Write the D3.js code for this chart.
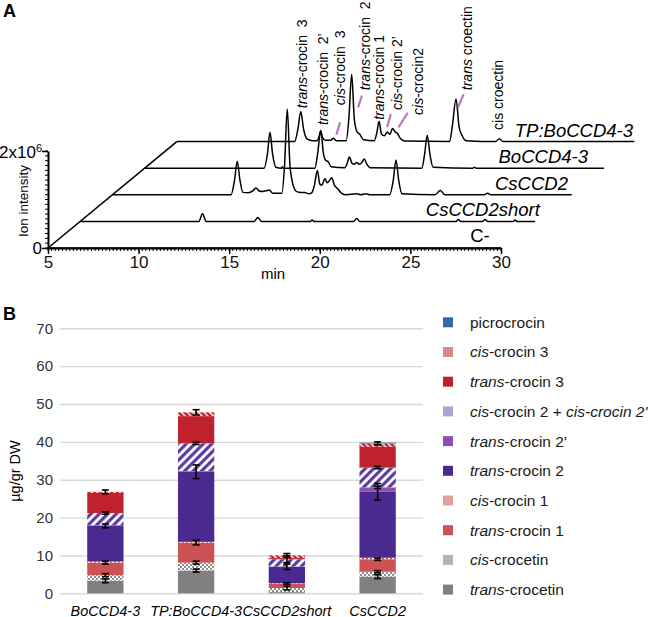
<!DOCTYPE html>
<html><head><meta charset="utf-8">
<script src="https://cdn.jsdelivr.net/npm/d3@7"></script>
<style>
body{margin:0;background:#fff;}
svg{font-family:"Liberation Sans",Arial,Helvetica,sans-serif;}
</style></head><body>
<svg id="c" width="650" height="617"></svg>
<script>
// ---------------- Panel A data (time in min, intensity in units of 10^6) ----------------
const traceNames = ["C-", "CsCCD2short", "CsCCD2", "BoCCD4-3", "TP:BoCCD4-3"];
const traceCneg = [[5,0],[30,0]];
const traceShort = [[5,0],[11.55,0],[11.75,0.16],[11.95,0],[14.6,0],[14.8,0.08],[15.0,0],[17.7,0],[17.8,0.03],[17.9,0],
  [20.1,0],[20.26,0.06],[20.42,0],[25.75,0],[25.87,0.04],[26.0,0],[27.2,0],[27.34,0.04],[27.5,0],[28.9,0],[29.0,0.03],[29.1,0],[30.1,0]];
const traceCsCCD2 = [[5,0],[11.55,0],[11.74,0.3],[11.89,0.69],[12.04,0.3],[12.2,0.05],[12.5,0.04],[12.75,0.08],[12.93,0.14],[13.1,0.08],
  [13.3,0.07],[13.45,0.08],[13.66,0.1],[13.85,0.03],[14.35,0.03],[14.5,0.6],[14.65,1.77],[14.8,0.6],[14.9,0.32],[15.05,0.12],[15.2,0.06],
  [15.4,0.05],[15.6,0.05],[15.85,0.02],[16.0,0.04],[16.15,0.2],[16.31,0.5],[16.45,0.22],[16.55,0.2],[16.73,0.33],[16.85,0.25],[16.95,0.28],
  [17.1,0.35],[17.25,0.2],[17.45,0.12],[17.65,0.03],[17.9,0],[18.5,0.02],[18.7,0],[19.0,0.02],[19.2,0],[20.3,0],[20.5,0.3],[20.65,0.72],
  [20.8,0.3],[20.98,0.02],[22.8,0],[23.1,0.09],[23.35,0],[25.5,0],[25.7,0.03],[25.9,0],[30.35,0]];
const traceBo = [[5,0],[11.6,0],[11.78,0.3],[11.92,0.74],[12.06,0.3],[12.25,0.02],[12.55,0],[12.6,0.03],[12.65,0],[14.4,0],[14.55,0.3],
  [14.72,0.78],[14.87,0.3],[15.0,0.16],[15.12,0.14],[15.3,0.03],[16.05,0.01],[16.18,0.1],[16.3,0.23],[16.45,0.1],[16.58,0.08],[16.7,0.12],
  [16.85,0.08],[17.0,0.12],[17.12,0.19],[17.27,0.08],[17.45,0.01],[20.3,0],[20.45,0.28],[20.6,0.68],[20.75,0.28],[20.92,0.02],[23.1,0],
  [23.2,0.02],[23.3,0],[30.35,0]];
const traceTP = [[5,0],[11.5,0],[11.68,0.25],[11.84,0.62],[12.0,0.25],[12.2,0.05],[12.5,0.02],[12.75,0.02],[12.85,0.1],[12.94,0.22],
  [13.03,0.1],[13.2,0.03],[13.5,0.03],[13.64,0.07],[13.8,0.02],[14.35,0.02],[14.5,0.5],[14.65,1.39],[14.8,0.45],[14.95,0.2],[15.1,0.15],
  [15.3,0.04],[15.9,0.02],[16.05,0.2],[16.16,0.42],[16.3,0.15],[16.45,0.12],[16.62,0.2],[16.75,0.15],[16.91,0.27],[17.05,0.2],[17.17,0.17],
  [17.35,0.06],[17.6,0.01],[20.05,0],[20.2,0.3],[20.41,0.88],[20.58,0.3],[20.75,0.12],[20.95,0.02],[22.6,0],[22.8,0.06],[23.0,0],[30.25,0]];
const traceLabelTimes = [28.84, 30.37, 30.14, 29.47, 30.18];
const xTicksA = [5, 10, 15, 20, 25, 30];
// peak labels, anchored in TP:BoCCD4-3 trace coordinates [time, intensity]
const peakLabels = [
  {t:11.89, v:0.69, parts:[["trans",true],["-crocin  3",false]]},
  {t:13.09, v:0.34, parts:[["trans",true],["-crocin  2’",false]]},
  {t:14.0,  v:0.75, parts:[["cis",true],["-crocin  3",false]]},
  {t:15.39, v:1.06, parts:[["trans",true],["-crocin  2",false]]},
  {t:16.18, v:0.45, parts:[["trans",true],["-crocin 1",false]]},
  {t:17.14, v:0.65, parts:[["cis",true],["-crocin 2’",false]]},
  {t:18.33, v:0.55, parts:[["cis",true],["-crocin2",false]]},
  {t:21.0,  v:1.06, parts:[["trans",true],[" croectin",false]]},
  {t:22.74, v:0.24, parts:[["cis croectin",false]]}
];
const leaderLines = [[13.82,0.16,14.0,0.38],[15.02,0.72,15.2,0.93],[16.62,0.32,16.8,0.55],[17.26,0.31,17.72,0.58],[20.54,0.72,20.81,0.96]];

// ---------------- Panel B data (µg/gr DW) ----------------
const categories = ["BoCCD4-3", "TP:BoCCD4-3", "CsCCD2short", "CsCCD2"];
const seriesNames = ["trans-crocetin","cis-crocetin","trans-crocin 1","cis-crocin 1","trans-crocin 2","trans-crocin 2'",
  "cis-crocin 2 + cis-crocin 2'","trans-crocin 3","cis-crocin 3","picrocrocin"];
const transCrocetin = [3.3, 6.0, 0.3, 4.4];
const cisCrocetin   = [1.5, 2.1, 1.1, 1.3];
const transCrocin1  = [3.3, 5.3, 1.2, 3.3];
const cisCrocin1    = [0.3, 0.2, 0.1, 0.4];
const transCrocin2  = [9.4, 18.5, 4.3, 17.4];
const transCrocin2p = [0.2, 0.2, 0.1, 1.2];
const cisCrocin2    = [3.2, 7.3, 1.9, 5.2];
const transCrocin3  = [5.3, 7.2, 0.3, 5.5];
const cisCrocin3    = [0.3, 1.0, 0.7, 0.9];
const picrocrocin   = [0, 0, 0, 0.2];
const errTransCrocetin = [0.5, 0.4, 0, 0.5];
const errCisCrocetin   = [0.4, 0.4, 0.5, 0.3];
const errTransCrocin1  = [0.4, 0.6, 0.2, 0.3];
const errTransCrocin2  = [0.5, 1.8, 0.7, 2.2];
const errTransCrocin2p = [0, 0, 0, 0.3];
const errCisCrocin2    = [0.3, 0.3, 0.9, 0.3];
const errCisCrocin3    = [0.5, 0.7, 0.5, 0.4];
const yTicksB = [0, 10, 20, 30, 40, 50, 60, 70];

// ---------------- drawing ----------------
const svg = d3.select("#c");
const defs = svg.append("defs");
function stripePattern(id, size, bg, fg, w, angle){
  const p = defs.append("pattern").attr("id", id).attr("patternUnits","userSpaceOnUse")
    .attr("width", size).attr("height", size).attr("patternTransform", `rotate(${angle})`);
  p.append("rect").attr("width", size).attr("height", size).attr("fill", bg);
  p.append("rect").attr("width", w).attr("height", size).attr("fill", fg);
}
stripePattern("pCis2", 6, "#ffffff", "#5a3d9e", 3.2, 45);
stripePattern("pCis3", 4, "#c0222b", "#ffffff", 1.4, -45);
{
  const p = defs.append("pattern").attr("id","pCisCrocetin").attr("patternUnits","userSpaceOnUse").attr("width",4).attr("height",4);
  p.append("rect").attr("width",4).attr("height",4).attr("fill","#8f8f8f");
  p.append("rect").attr("width",2).attr("height",2).attr("fill","#ffffff");
  p.append("rect").attr("x",2).attr("y",2).attr("width",2).attr("height",2).attr("fill","#ffffff");
  const q = defs.append("pattern").attr("id","pCis1").attr("patternUnits","userSpaceOnUse").attr("width",4).attr("height",2);
  q.append("rect").attr("width",4).attr("height",2).attr("fill","#cd5253");
  q.append("rect").attr("width",2).attr("height",2).attr("fill","#ffffff");
}

// ===== Panel A =====
const xA = d3.scaleLinear().domain([5,30]).range([48,501]);
const yA = d3.scaleLinear().domain([0,2]).range([248,151]);
const DX = 32.2, DY = -26.6;
const gA = svg.append("g");

svg.append("text").attr("x",3).attr("y",17).attr("font-size",18).attr("font-weight","bold").text("A");

// minor ticks x
gA.append("g").selectAll("line").data(d3.range(5, 30.001, 0.2)).join("line")
  .attr("x1", d=>xA(d)).attr("x2", d=>xA(d)).attr("y1", yA(0)).attr("y2", yA(0)+3)
  .attr("stroke","#000").attr("stroke-width",1);
const xAxisA = d3.axisBottom(xA).tickValues(xTicksA).tickSize(6).tickSizeOuter(0).tickFormat(d3.format("d"));
const gxA = gA.append("g").attr("transform",`translate(0,${yA(0)})`).call(xAxisA);
gxA.select(".domain").attr("stroke-width",2);
gxA.selectAll(".tick line").attr("stroke-width",1.5);
gxA.selectAll(".tick text").attr("font-size",17).attr("fill","#111").attr("font-family",null).attr("y",8);
gA.append("text").attr("x",273).attr("y",279).attr("text-anchor","middle").attr("font-size",15).text("min");

// y axis
gA.append("g").selectAll("line").data(d3.range(0, 2.001, 0.1)).join("line")
  .attr("x1", xA(5)-3).attr("x2", xA(5)).attr("y1", d=>yA(d)).attr("y2", d=>yA(d))
  .attr("stroke","#000").attr("stroke-width",1);
const yAxisA = d3.axisLeft(yA).tickValues([0,2]).tickSize(6).tickSizeOuter(0).tickFormat("");
const gyA = gA.append("g").attr("transform",`translate(${xA(5)},0)`).call(yAxisA);
gyA.select(".domain").attr("stroke-width",2);
gyA.selectAll(".tick line").attr("stroke-width",1.5);
gA.append("text").attr("x",42).attr("y",yA(0)).attr("dy","0.35em").attr("text-anchor","end").attr("font-size",17).text("0");
const t2 = gA.append("text").attr("x",42).attr("y",yA(2)).attr("dy","0.4em").attr("text-anchor","end").attr("font-size",17);
t2.append("tspan").text("2x10");
t2.append("tspan").attr("font-size",11).attr("dy","-0.55em").text("6");
gA.append("text").attr("transform",`translate(23,201) rotate(-90)`).attr("text-anchor","middle").attr("dy","0.35em")
  .attr("font-size",13.5).text("Ion intensity");

// diagonal
const nT = traceNames.length - 1;
gA.append("line").attr("x1", xA(5)).attr("y1", yA(0)).attr("x2", xA(5)+nT*DX).attr("y2", yA(0)+nT*DY)
  .attr("stroke","#000").attr("stroke-width",1.6);

// traces
const traceData = [traceCneg, traceShort, traceCsCCD2, traceBo, traceTP];
traceData.forEach((pts, i) => {
  const line = d3.line().x(d=>xA(d[0])+i*DX).y(d=>yA(d[1])+i*DY).curve(d3.curveMonotoneX);
  gA.append("path").attr("d", line(pts)).attr("fill","none").attr("stroke","#000").attr("stroke-width",1.5)
    .attr("stroke-linejoin","round");
  gA.append("text").attr("font-size",18.5).attr("font-style", i===0 ? "normal" : "italic")
    .attr("x", xA(traceLabelTimes[i]) + i*DX).attr("y", yA(0) + i*DY - (i===0 ? 6 : 5))
    .attr("text-anchor", i===0 ? "middle" : "end").text(traceNames[i]);
});

// leader lines
leaderLines.forEach(l => {
  gA.append("line").attr("x1", xA(l[0])+nT*DX).attr("y1", yA(l[1])+nT*DY)
    .attr("x2", xA(l[2])+nT*DX).attr("y2", yA(l[3])+nT*DY)
    .attr("stroke","#9b4fa8").attr("stroke-opacity",0.75).attr("stroke-width",2.2).attr("stroke-linecap","round");
});
// peak labels
peakLabels.forEach(p => {
  const t = gA.append("text").attr("transform", `translate(${xA(p.t)+nT*DX},${yA(p.v)+nT*DY}) rotate(-90)`)
    .attr("dy","0.35em").attr("font-size",14).style("white-space","pre");
  p.parts.forEach(pt => t.append("tspan").attr("font-style", pt[1] ? "italic" : "normal").text(pt[0]));
});

// ===== Panel B =====
svg.append("text").attr("x",3).attr("y",320).attr("font-size",18).attr("font-weight","bold").text("B");
const yB = d3.scaleLinear().domain([0,70]).range([593.3,328.3]);
const xB = d3.scaleBand().domain(categories).range([60,423]).paddingInner(0.6).paddingOuter(0.3);
const gB = svg.append("g");
const yAxisB = d3.axisLeft(yB).tickValues(yTicksB).tickSize(-(423-60)).tickFormat(d3.format("d"));
const gyB = gB.append("g").attr("transform","translate(60,0)").call(yAxisB);
gyB.select(".domain").remove();
gyB.selectAll(".tick line").attr("stroke","#d9d9d9").attr("stroke-width",1.4);
gyB.selectAll(".tick text").attr("x",-7).attr("font-size",15).attr("fill","#333").attr("font-family",null);
gB.append("text").attr("transform","translate(15,471) rotate(-90)").attr("text-anchor","middle").attr("dy","0.35em")
  .attr("font-size",14.5).text("µg/gr DW");

const valueArrays = [transCrocetin, cisCrocetin, transCrocin1, cisCrocin1, transCrocin2, transCrocin2p, cisCrocin2, transCrocin3, cisCrocin3, picrocrocin];
const errArrays = [errTransCrocetin, errCisCrocetin, errTransCrocin1, null, errTransCrocin2, errTransCrocin2p, errCisCrocin2, null, errCisCrocin3, null];
const fills = ["#808080","url(#pCisCrocetin)","#cd5253","url(#pCis1)","#4a2a8e","#8e4fb5","url(#pCis2)","#c0222b","url(#pCis3)","#3468a8"];
const legendFills = ["#808080","#b4b4b4","#cd5253","#e3a0a0","#4a2a8e","#8e4fb5","#b0a4d6","#c0222b","#d98c8c","#3468a8"];
const legendParts = [
  [["trans",true],["-crocetin",false]],
  [["cis",true],["-crocetin",false]],
  [["trans",true],["-crocin 1",false]],
  [["cis",true],["-crocin 1",false]],
  [["trans",true],["-crocin 2",false]],
  [["trans",true],["-crocin 2'",false]],
  [["cis",true],["-crocin 2 + ",false],["cis-crocin 2'",true]],
  [["trans",true],["-crocin 3",false]],
  [["cis",true],["-crocin 3",false]],
  [["picrocrocin",false]]
];
const table = categories.map((c, ci) => {
  const row = {cat: c};
  seriesNames.forEach((s, si) => row[s] = valueArrays[si][ci]);
  return row;
});
const stacked = d3.stack().keys(seriesNames)(table);
stacked.forEach((layer, si) => {
  gB.append("g").selectAll("rect").data(layer).join("rect")
    .attr("x", d => xB(d.data.cat)).attr("width", xB.bandwidth())
    .attr("y", d => yB(d[1])).attr("height", d => Math.max(0, yB(d[0]) - yB(d[1])))
    .attr("fill", fills[si]);
});
// error bars
stacked.forEach((layer, si) => {
  const errs = errArrays[si];
  if (!errs) return;
  layer.forEach((d, ci) => {
    const e = errs[ci];
    if (!e) return;
    const cx = xB(d.data.cat) + xB.bandwidth()/2;
    const g = gB.append("g").attr("stroke","#000").attr("stroke-width",1.6);
    g.append("line").attr("x1",cx).attr("x2",cx).attr("y1",yB(d[1]-e)).attr("y2",yB(d[1]+e));
    g.append("line").attr("x1",cx-3.5).attr("x2",cx+3.5).attr("y1",yB(d[1]-e)).attr("y2",yB(d[1]-e));
    g.append("line").attr("x1",cx-3.5).attr("x2",cx+3.5).attr("y1",yB(d[1]+e)).attr("y2",yB(d[1]+e));
  });
});
// category labels
gB.append("g").selectAll("text").data(categories).join("text")
  .attr("x", d => xB(d) + xB.bandwidth()/2).attr("y", 615.5).attr("text-anchor","middle")
  .attr("font-size",14.4).attr("font-style","italic").text(d => d);

// legend
const legOrder = d3.range(seriesNames.length).reverse();
const gL = gB.append("g");
legOrder.forEach((si, r) => {
  const yy = 322.3 + r*29.7;
  gL.append("rect").attr("x",443).attr("y",yy-5).attr("width",10).attr("height",10).attr("fill",legendFills[si]);
  const t = gL.append("text").attr("x",470).attr("y",yy).attr("dy","0.35em").attr("font-size",15.5).attr("fill","#1a1a1a");
  legendParts[si].forEach(pt => t.append("tspan").attr("font-style", pt[1] ? "italic" : "normal").text(pt[0]));
});
</script></body></html>
